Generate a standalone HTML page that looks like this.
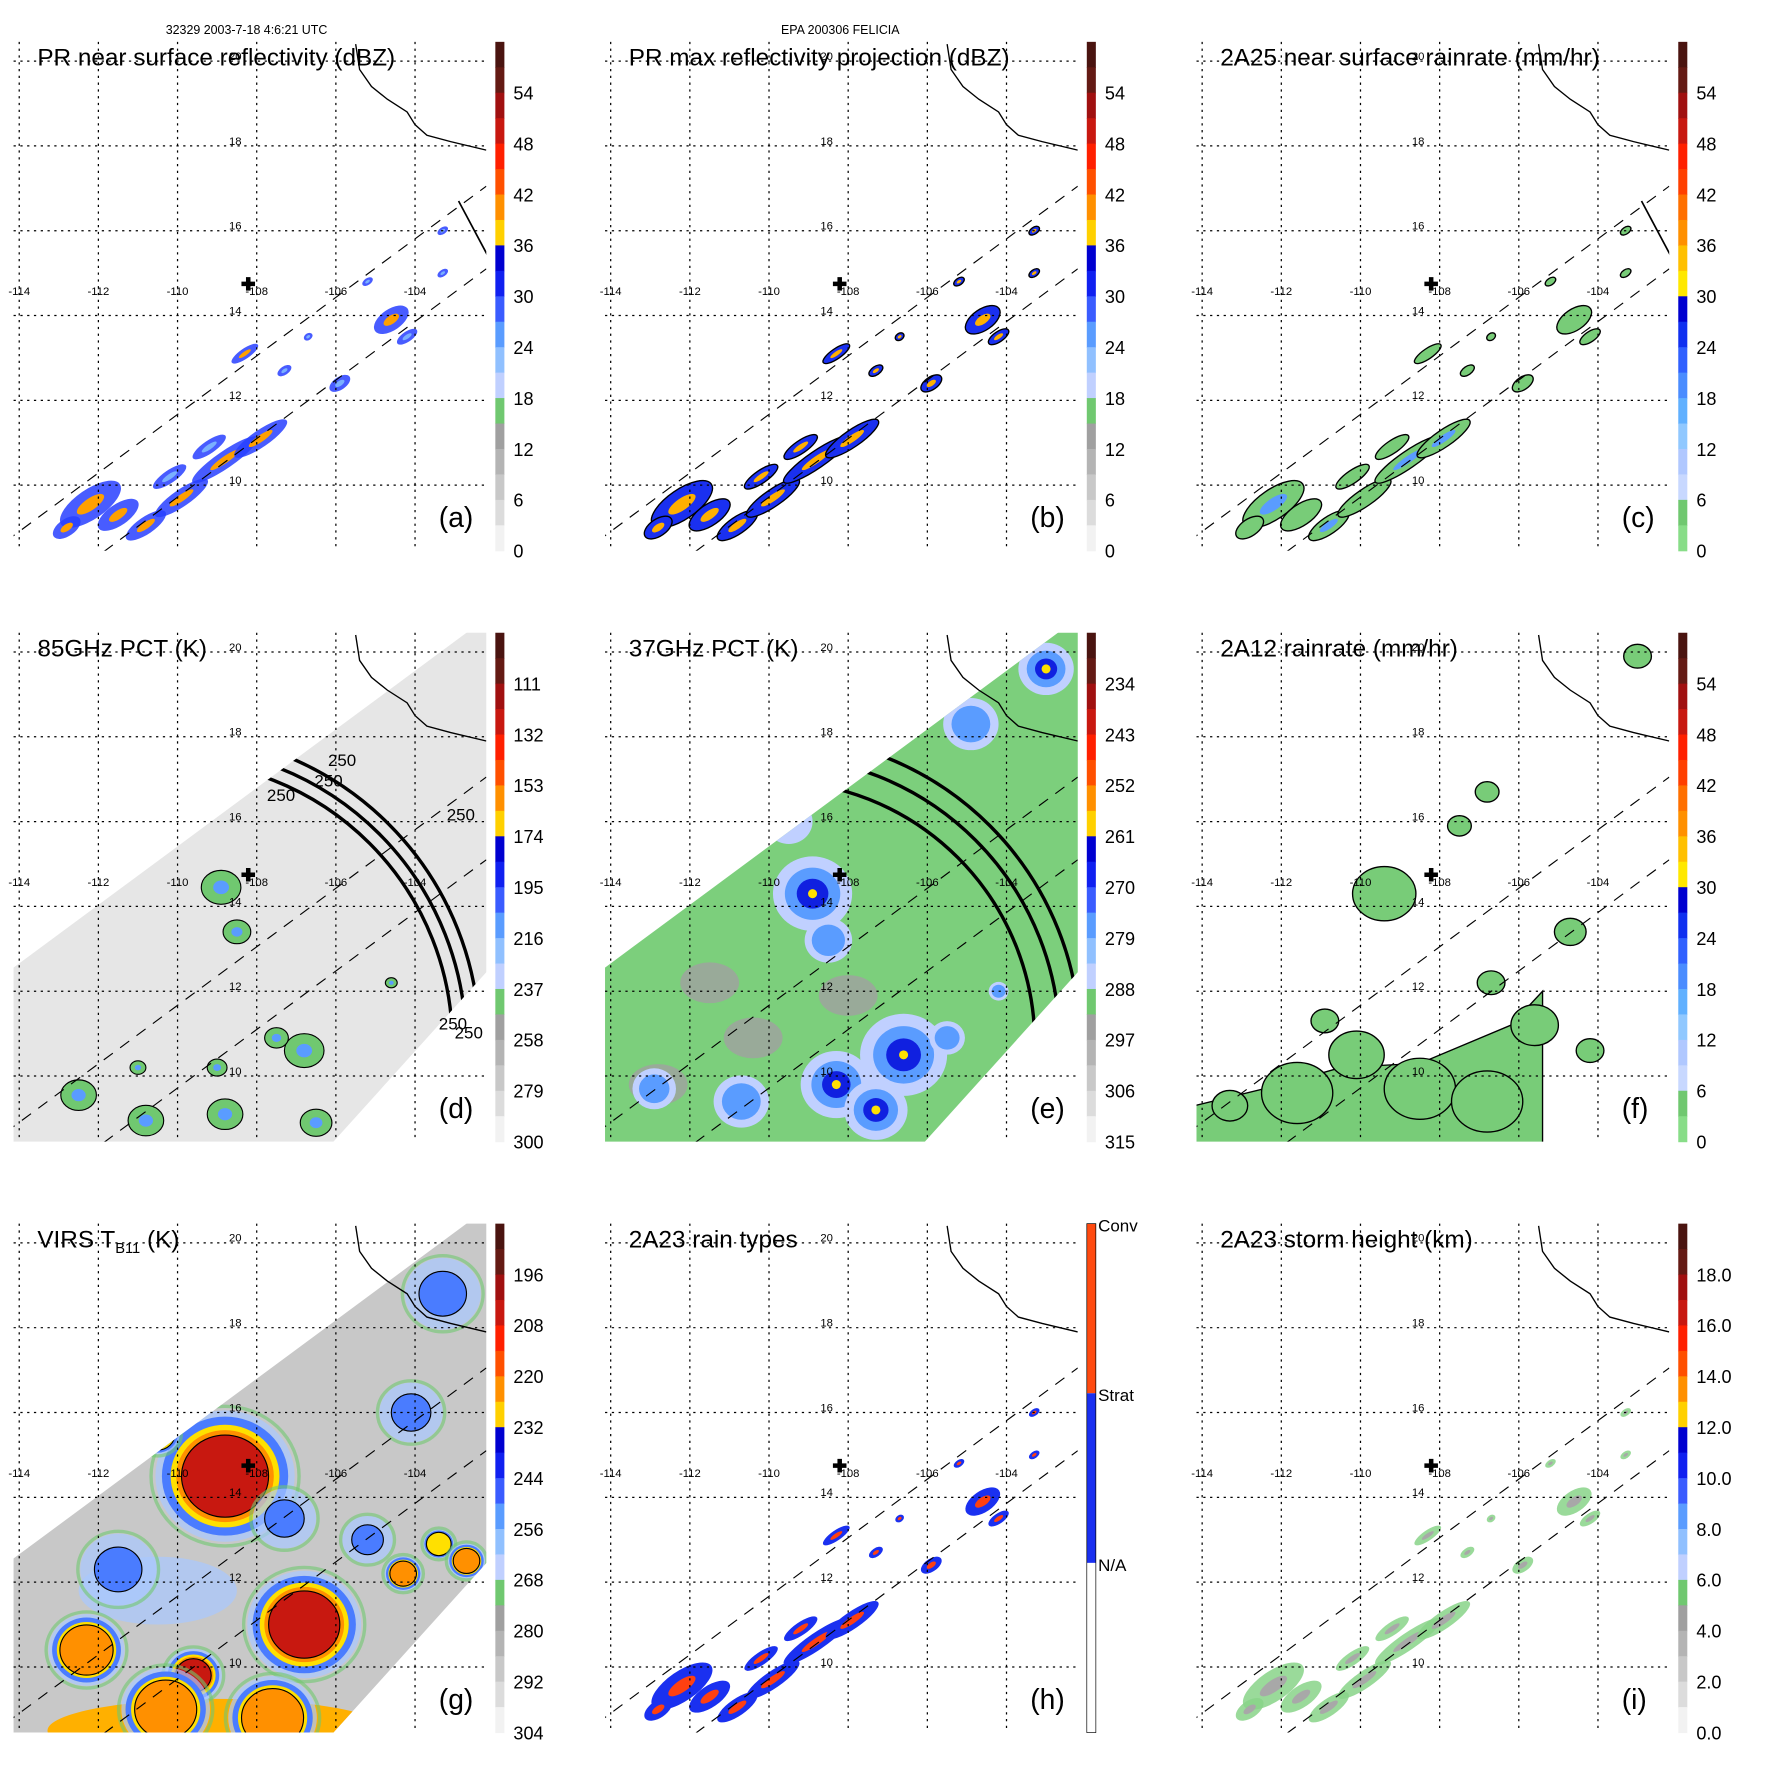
<!DOCTYPE html>
<html><head><meta charset="utf-8"><style>
html,body{margin:0;padding:0;background:#fff}
svg{display:block}
text{font-family:"Liberation Sans",sans-serif}
</style></head><body>
<svg id="fig" xmlns="http://www.w3.org/2000/svg" width="1771" height="1771" viewBox="0 0 1566 1566">
<rect width="1566" height="1566" fill="#fff"/>
<text x="218" y="30" font-size="11" text-anchor="middle">32329 2003-7-18 4:6:21 UTC</text>
<text x="743" y="30" font-size="11" text-anchor="middle">EPA 200306 FELICIA</text>
</svg>
<script>
// ---- data ----
const lonTicks=[-114,-112,-110,-108,-106,-104];
const latTicks=[20,18,16,14,12,10];
const coastLon=[-105.5,-105.4,-105.1,-104.7,-104.2,-104.0,-103.7,-103.1,-102.2];
const coastLat=[20.4,19.8,19.4,19.1,18.8,18.5,18.25,18.1,17.9];
const centerLon=-108.1, centerLat=14.8;
const titles=["PR near surface reflectivity (dBZ)","PR max reflectivity projection (dBZ)","2A25 near surface rainrate (mm/hr)","85GHz PCT (K)","37GHz PCT (K)","2A12 rainrate (mm/hr)","VIRS T_B11 (K)","2A23 rain types","2A23 storm height (km)"];
const panelLetters=["(a)","(b)","(c)","(d)","(e)","(f)","(g)","(h)","(i)"];
const ticksA=["54","48","42","36","30","24","18","12","6","0"];
const ticksD=["111","132","153","174","195","216","237","258","279","300"];
const ticksE=["234","243","252","261","270","279","288","297","306","315"];
const ticksG=["196","208","220","232","244","256","268","280","292","304"];
const ticksI=["18.0","16.0","14.0","12.0","10.0","8.0","6.0","4.0","2.0","0.0"];
const palA=['#4a1410','#641a14','#a01010','#c81810','#ff2000','#ff5000','#ff9000','#ffd000','#0000d0','#1020f0','#3a5cff','#5a9cff','#90c0ff','#c0d0ff','#70c870','#a0a0a0','#b4b4b4','#c8c8c8','#dcdcdc','#f2f2f2'];
const palC=['#4a1410','#641a14','#a01010','#c81810','#ff2000','#ff4000','#ff7000','#ff9000','#ffc000','#ffe800','#0000d0','#1030f0','#3060ff','#4a8cff','#60b0ff','#90c8ff','#b0c8ff','#c8d8ff','#70c870','#88dd88'];
// PR rain cells
const cellLon=[-112.2,-111.5,-110.8,-109.9,-110.2,-108.8,-107.9,-108.3,-107.3,-105.9,-104.6,-104.2,-105.2,-103.3,-103.3,-106.7,-112.8,-109.2];
const cellLat=[9.55,9.3,9.05,9.7,10.2,10.6,11.1,13.1,12.7,12.4,13.9,13.5,14.8,15.0,16.0,13.5,9.0,10.9];
const cellLen=[0.9,0.6,0.6,0.8,0.5,1.0,0.8,0.4,0.2,0.3,0.5,0.3,0.15,0.15,0.15,0.12,0.4,0.5];
const cellWid=[0.35,0.25,0.2,0.2,0.15,0.2,0.2,0.12,0.1,0.15,0.25,0.12,0.08,0.08,0.08,0.08,0.2,0.15];
const cellInt=[0.9,0.7,0.8,0.6,0.5,0.8,0.8,0.7,0.3,0.4,0.6,0.5,0.3,0.3,0.3,0.2,0.6,0.5];
// 85GHz blobs (d)
const dLon=[-108.9,-108.5,-112.5,-110.8,-108.8,-106.8,-107.5,-109.0,-106.5,-104.6,-111.0];
const dLat=[14.45,13.4,9.55,8.95,9.1,10.6,10.9,10.2,8.9,12.2,10.2];
const dR=[0.5,0.35,0.45,0.45,0.45,0.5,0.3,0.25,0.4,0.15,0.2];
// 37GHz blobs (e)
const eLon=[-108.9,-108.5,-106.6,-108.3,-110.7,-112.9,-104.9,-103.0,-105.5,-107.3,-104.2,-109.5];
const eLat=[14.3,13.2,10.5,9.8,9.4,9.7,18.3,19.6,10.9,9.2,12.0,16.0];
const eR=[1.0,0.6,1.1,0.9,0.7,0.55,0.7,0.7,0.45,0.8,0.25,0.6];
const eLev=[2,1,2,2,1,1,1,2,1,2,1,0];
const grayLon=[-108.0,-111.5,-112.8,-110.4];
const grayLat=[11.9,12.2,9.8,10.9];
// 2A12 blobs (f)
const fLon=[-109.4,-110.1,-111.6,-108.5,-106.8,-106.7,-104.7,-103.0,-106.8,-105.6,-104.2,-110.9,-113.3,-107.5];
const fLat=[14.3,10.5,9.6,9.7,9.4,12.2,13.4,19.9,16.7,11.2,10.6,11.3,9.3,15.9];
const fR=[0.8,0.7,0.9,0.9,0.9,0.35,0.4,0.35,0.3,0.6,0.35,0.35,0.45,0.3];
// VIRS cold cloud (g): level 0 blue,1 yellow,2 orange,3 red
const gLon=[-108.8,-106.8,-109.6,-112.3,-110.3,-107.6,-104.3,-103.4,-102.7,-105.2,-104.1,-107.3,-111.5,-103.3,-110.5];
const gLat=[14.5,11.0,9.8,10.4,9.0,8.8,12.2,12.9,12.5,13.0,16.0,13.5,12.3,18.8,15.5];
const gR=[1.1,0.9,0.45,0.6,0.7,0.7,0.3,0.25,0.3,0.4,0.5,0.5,0.6,0.6,0.35];
const gLev=[3,3,3,2,2,2,2,1,2,0,0,0,0,0,1];
// ---- helpers ----
const NS="http://www.w3.org/2000/svg";
const svg=document.getElementById('fig');
function mk(tag,attrs,parent){const e=document.createElementNS(NS,tag);for(const k in attrs)e.setAttribute(k,attrs[k]);(parent||svg).appendChild(e);return e;}
const colX=[0,523,1046], rowY=[0,522.5,1045];
function X(ox,lon){return ox+17+(lon+114)*35;}
function Y(oy,lat){return oy+54+(20-lat)*37.5;}
const ANG=-34.5;
function swathLine(ox,oy,lat0,g,name){
  const l=mk('line',{x1:X(ox,-116),y1:Y(oy,lat0-0.69*13.8),x2:X(ox,-102.2),y2:Y(oy,lat0),stroke:'#000','stroke-width':1,'stroke-dasharray':'10,8'},g);
  
  
}
for(let p=0;p<9;p++){
  const ox=colX[p%3], oy=rowY[Math.floor(p/3)];
  const g=mk('g',{});
  
  
  const cp=mk('clipPath',{id:'cp'+p},g);
  mk('rect',{x:ox+12,y:oy+37,width:418,height:450},cp);
  const plot=mk('g',{'clip-path':'url(#cp'+p+')'},g);
  let inner=null;
  if(p===3||p===4||p===6){
    const pts=[[-116,12.56-0.69*1.86],[-101,12.56+0.69*13.14],[-102.15,20.9],[-102.15,12.5],[-106.5,8.0],[-116,8.0]];
    const base=p===3?'#e6e6e6':p===4?'#7ccf7c':'#c8c8c8';
    const poly=mk('polygon',{points:pts.map(q=>X(ox,q[0])+','+Y(oy,q[1])).join(' '),fill:base},plot);
    
    
    const cp2=mk('clipPath',{id:'sw'+p},g);
    mk('polygon',{points:pts.map(q=>X(ox,q[0])+','+Y(oy,q[1])).join(' ')},cp2);
    inner=mk('g',{'clip-path':'url(#sw'+p+')'},plot);
    if(p===3){
      for(let i=0;i<dLon.length;i++){
        const b=mk('ellipse',{cx:X(ox,dLon[i]),cy:Y(oy,dLat[i]),rx:dR[i]*35,ry:dR[i]*30,fill:'#70c870',stroke:'#000','stroke-width':1},inner);
        
        
        mk('ellipse',{cx:X(ox,dLon[i]),cy:Y(oy,dLat[i]),rx:dR[i]*14,ry:dR[i]*12,fill:'#5a9cff'},inner);
      }
    } else if(p===4){
      for(let i=0;i<grayLon.length;i++){
        const b=mk('ellipse',{cx:X(ox,grayLon[i]),cy:Y(oy,grayLat[i]),rx:26,ry:18,fill:'#a0a0a0',opacity:0.8},inner);
        
        
      }
      const cols=['#c0d0ff','#5a9cff','#1020e0'];
      for(let i=0;i<eLon.length;i++){
        for(let k=0;k<=eLev[i];k++){
          const b=mk('ellipse',{cx:X(ox,eLon[i]),cy:Y(oy,eLat[i]),rx:eR[i]*35*(1-k*0.3),ry:eR[i]*33*(1-k*0.3),fill:cols[k]},inner);
          
          
        }
        if(eLev[i]===2) mk('circle',{cx:X(ox,eLon[i]),cy:Y(oy,eLat[i]),r:4,fill:'#ffe000'},inner);
      }
    } else {
      mk('ellipse',{cx:X(ox,-109.0),cy:Y(oy,8.5),rx:150,ry:28,fill:'#ffb000'},inner);
      mk('ellipse',{cx:X(ox,-110.5),cy:Y(oy,11.8),rx:70,ry:30,fill:'#a8c8ff',opacity:0.7},inner);
      const ring=['#4a7cff','#ffe000','#ff9000','#c81810'];
      const scale=[1.45,1.25,1.12,1.0];
      for(let i=0;i<gLon.length;i++){
        const lv=gLev[i];
        const rx=gR[i]*35, ry=gR[i]*33;
        mk('ellipse',{cx:X(ox,gLon[i]),cy:Y(oy,gLat[i]),rx:rx*1.6,ry:ry*1.6,fill:'#a8c8ff',opacity:0.7},inner);
        mk('ellipse',{cx:X(ox,gLon[i]),cy:Y(oy,gLat[i]),rx:rx*1.7,ry:ry*1.7,fill:'none',stroke:'#70c870','stroke-width':3,opacity:0.6},inner);
        for(let k=0;k<=lv;k++){
          const b=mk('ellipse',{cx:X(ox,gLon[i]),cy:Y(oy,gLat[i]),rx:rx*scale[k]/(lv===0?1.45:1),ry:ry*scale[k]/(lv===0?1.45:1),fill:ring[k],stroke:k===lv?'#000':'none','stroke-width':1},inner);
          
          
        }
      }
    }
  }
  lonTicks.forEach(lo=>{const l=mk('line',{x1:X(ox,lo),y1:oy+37,x2:X(ox,lo),y2:oy+487,stroke:'#000','stroke-width':1.1,'stroke-dasharray':'2,4'},g);});
  latTicks.forEach(la=>{const l=mk('line',{x1:ox+12,y1:Y(oy,la),x2:ox+430,y2:Y(oy,la),stroke:'#000','stroke-width':1.1,'stroke-dasharray':'2,4'},g);});
  if([0,1,2,7,8].includes(p)){
    for(let i=0;i<cellLon.length;i++){
      const cx=X(ox,cellLon[i]), cy=Y(oy,cellLat[i]);
      let fill,inn,stroke='none';
      if(p===0){fill='#2840ff';inn=cellInt[i]>0.55?'#ffa000':'#7ab0ff';}
      else if(p===1){fill='#1a30f0';inn='#ffb000';stroke='#000';}
      else if(p===2){fill='#78cc78';inn=cellInt[i]>0.75?'#5a9cff':'#78cc78';stroke='#000';}
      else if(p===7){fill='#1a30f0';inn='#ff4010';}
      else {fill='#88d488';inn='#a8a8a8';}
      const e=mk('ellipse',{cx:cx,cy:cy,rx:cellLen[i]*35,ry:cellWid[i]*37.5,fill:fill,stroke:stroke,'stroke-width':1.2,transform:'rotate('+ANG+' '+cx+' '+cy+')',opacity:p===0||p===8?0.85:1},plot);
      
      
      mk('ellipse',{cx:cx,cy:cy,rx:cellLen[i]*35*0.45,ry:cellWid[i]*37.5*0.4,fill:inn,transform:'rotate('+ANG+' '+cx+' '+cy+')'},plot);
    }
  }
  if(p===5){
    mk('polygon',{points:[[-114.2,8.2],[-114.2,9.3],[-112,9.8],[-110.5,10.2],[-108.5,10.3],[-106.2,11.2],[-105.4,12.0],[-105.4,8.0]].map(q=>X(ox,q[0])+','+Y(oy,q[1])).join(' '),fill:'#78cc78',stroke:'#000','stroke-width':1.2},plot);
    for(let i=0;i<fLon.length;i++){
      const e=mk('ellipse',{cx:X(ox,fLon[i]),cy:Y(oy,fLat[i]),rx:fR[i]*35,ry:fR[i]*30,fill:'#78cc78',stroke:'#000','stroke-width':1.2},plot);
      
      
    }
  }
  if(p===3||p===4){
    const cx=ox+(p===3?150:160), cy=oy+400;
    const radii=p===3?[250,262,274]:[232,254,272];
    radii.forEach(r=>{const c=mk('circle',{cx:cx,cy:cy,r:r,fill:'none',stroke:'#000','stroke-width':3},inner);});
    if(p===3){[['250',290,677],['250',278,695],['250',236,708],['250',395,725],['250',388,910],['250',402,918]].forEach(t=>{const tx=mk('text',{x:ox+t[1],y:oy+t[2]-522,'font-size':15,fill:'#000'},plot);tx.textContent=t[0];});}
  }
  swathLine(ox,oy,17.05,plot,'swath-edge-upper');
  swathLine(ox,oy,15.1,plot,'swath-edge-lower');
  if(p===0||p===2){mk('line',{x1:X(ox,-102.9),y1:Y(oy,16.7),x2:X(ox,-102.1),y2:Y(oy,15.3),stroke:'#000','stroke-width':1.5},plot);}
  const cl=mk('polyline',{points:coastLon.map((lo,i)=>X(ox,lo)+','+Y(oy,coastLat[i])).join(' '),fill:'none',stroke:'#000','stroke-width':1.2},plot);
  
  
  lonTicks.forEach(lo=>{const t=mk('text',{x:X(ox,lo),y:oy+261,'font-size':10,'text-anchor':'middle'},g);t.textContent=String(lo);});
  latTicks.forEach(la=>{const t=mk('text',{x:ox+208,y:Y(oy,la)-1,'font-size':10,'text-anchor':'middle'},g);t.textContent=String(la);});
  const cxp=X(ox,centerLon)-4, cyp=Y(oy,centerLat)+2;
  const cr=mk('path',{d:`M${cxp-6},${cyp-2}h12v4h-12z M${cxp-2},${cyp-6}h4v12h-4z`,fill:'#000'},g);
  
  
  const tt=mk('text',{x:ox+33,y:oy+58,'font-size':21.5},g);
  
  
  if(p===6){tt.textContent='VIRS T';const s=mk('tspan',{'font-size':13,dy:5},tt);s.textContent='B11';const s2=mk('tspan',{dy:-5},tt);s2.textContent=' (K)';}
  else tt.textContent=titles[p];
  const pl=mk('text',{x:ox+388,y:oy+466,'font-size':25},g);
  pl.textContent=panelLetters[p];
  
  
  const cb=mk('g',{},svg);
  
  
  const bx=ox+438, by=oy+37;
  if(p===7){
    [['#ff4a10',0],['#1a30f0',150],['#ffffff',300]].forEach(c=>mk('rect',{x:bx,y:by+c[1],width:8,height:150,fill:c[0]},cb));
    mk('rect',{x:bx,y:by,width:8,height:450,fill:'none',stroke:'#000','stroke-width':0.6},cb);
    [['Conv',0],['Strat',150],['N/A',300]].forEach(c=>{const t=mk('text',{x:bx+10,y:by+c[1]+7,'font-size':15},cb);t.textContent=c[0];});
  } else {
    const pal=(p===2||p===5)?palC:palA;
    pal.forEach((c,i)=>mk('rect',{x:bx,y:by+i*22.5,width:8,height:23,fill:c},cb));
    const tk=p===3?ticksD:p===4?ticksE:p===6?ticksG:p===8?ticksI:ticksA;
    tk.forEach((s,i)=>{const t=mk('text',{x:bx+16,y:by+45*(i+1)+6,'font-size':16},cb);t.textContent=s;});
  }
}
</script>
</body></html>
